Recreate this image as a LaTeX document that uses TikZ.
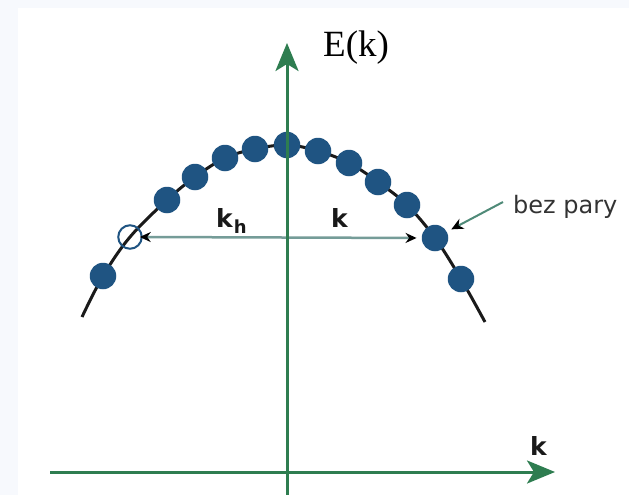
\documentclass[tikz,border=0pt]{standalone}
\usepackage{fontspec}
\setmainfont{Liberation Serif}
\newfontfamily\dvs{DejaVu Sans}
\usetikzlibrary{arrows.meta}
\definecolor{axisgreen}{HTML}{2E7D50}
\definecolor{dotblue}{HTML}{1F5482}
\definecolor{kline}{HTML}{759C98}
\definecolor{ptr}{HTML}{4F8A78}
\definecolor{bgtint}{HTML}{F7F9FD}
\definecolor{curvecol}{HTML}{1A1A1A}
\begin{document}
\begin{tikzpicture}[x=1pt,y=-1pt,
  axis/.style={draw=axisgreen, line width=3pt, -{Stealth[length=28pt,width=23pt,inset=7pt,fill=axisgreen]}},
  dot/.style={circle, fill=dotblue, minimum size=26.5pt, inner sep=0pt},
  hole/.style={circle, draw=dotblue, line width=2pt, minimum size=23.5pt, inner sep=0pt},
  curve/.style={draw=curvecol, line width=3pt},
  karrow/.style={draw=kline, line width=2.5pt, {Stealth[length=11pt,width=10pt,fill=black,color=black]}-{Stealth[length=11pt,width=10pt,fill=black,color=black]}},
  pointer/.style={draw=ptr, line width=2pt, -{Stealth[length=12pt,width=11pt,fill=black,color=black]}},
  bigk/.style={font=\dvs\bfseries\fontsize{25}{28}\selectfont, text=black!90, inner sep=0pt},
  lbl/.style={font=\dvs\fontsize{24}{28}\selectfont, text=black!80, inner sep=0pt},
  ek/.style={font=\fontsize{37}{42}\selectfont, text=black, inner sep=0pt}
]
\fill[bgtint] (0,0) rectangle (629,495);
\fill[white] (18,8) rectangle (629,495);
\useasboundingbox (0,0) rectangle (629,495);

% curve points
\coordinate (c0) at (82,317);
\coordinate (p1) at (103,276);
\coordinate (ph) at (130,237);
\coordinate (p2) at (167,200);
\coordinate (p3) at (195,177);
\coordinate (p4) at (225,158);
\coordinate (p5) at (255,149);
\coordinate (p6) at (287,145);
\coordinate (p7) at (318,151);
\coordinate (p8) at (349,163);
\coordinate (p9) at (378,182);
\coordinate (p10) at (407,205);
\coordinate (p11) at (435,238);
\coordinate (p12) at (461,279);
\coordinate (cE) at (485,322);

\draw[curve] plot[smooth, tension=0.6] coordinates {(c0) (p1) (ph) (p2) (p3) (p4) (p5) (p6) (p7) (p8) (p9) (p10) (p11) (p12) (cE)};

\foreach \i in {1,...,12}{\node[dot] (d\i) at (p\i) {};}
\node[hole] (h) at (ph) {};

% double arrow
\draw[karrow, shorten <=-3pt, shorten >=5pt] (h.east) -- (d11.west);

% axes
\coordinate (yb) at (287,495);
\coordinate (yt) at (287,43);
\coordinate (xl) at (50,472);
\coordinate (xr) at (555,472);
\draw[axis] (yb) -- (yt);
\draw[axis] (xl) -- (xr);

% labels
\node[ek, anchor=base west] (ekl) at (323,57) {E(k)};
\node[bigk, anchor=base west] (kax) at (530,455) {k};
\node[bigk, anchor=base west] (kh) at (216,227) {k\kern1pt\raisebox{-6pt}{\fontsize{18}{18}\selectfont h}};
\node[bigk, anchor=base west] (kk) at (331,227) {k};
\node[lbl, anchor=base west] (bp) at (513,213) {bez pary};

% pointer
\coordinate (ps) at (503,202);
\draw[pointer, shorten >=5pt] (ps) -- (d11);
\end{tikzpicture}
\end{document}
